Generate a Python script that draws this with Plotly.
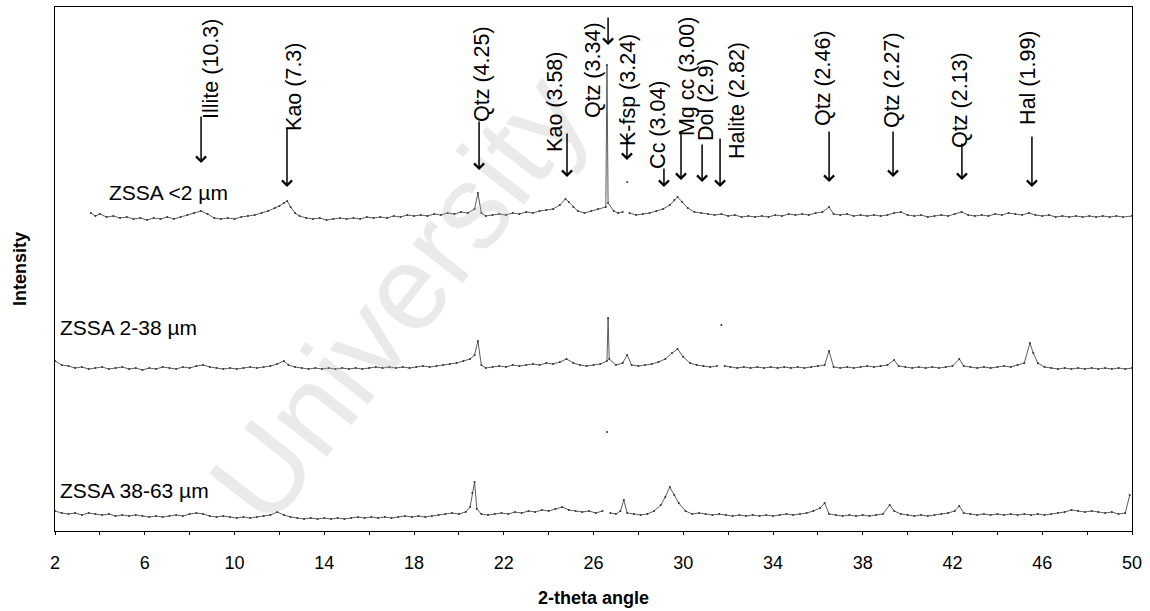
import plotly.graph_objects as go

# ---------------- data ----------------
# Sample 1: ZSSA <2 um (2-theta, offset intensity); None = gap in the dotted record
tt_fine = [3.6,3.8,4.0,4.3,4.6,4.9,5.2,5.5,5.8,6.1,6.4,6.7,7.0,7.3,7.6,7.9,8.2,8.5,8.8,9.1,
           9.4,9.7,10.0,10.3,10.6,10.9,11.2,11.5,11.8,12.0,12.2,12.35,12.5,12.7,12.9,13.2,13.5,13.8,14.1,14.4,
           14.7,15.0,15.3,15.6,15.9,16.2,16.5,16.8,17.1,17.4,17.7,18.0,18.3,18.6,18.9,19.2,19.5,19.8,20.1,20.4,
           20.7,20.85,21.0,21.2,21.5,21.8,22.1,22.4,22.7,23.0,23.3,23.6,23.9,24.2,24.5,24.75,24.9,25.1,25.3,25.6,
           25.9,26.2,26.55,26.6,26.65,26.9,27.1,27.3,27.4,27.5,27.55,27.6,27.9,28.2,28.5,28.8,29.1,29.4,29.6,29.75,29.95,30.2,
           30.5,30.8,31.1,31.4,31.7,32.0,32.3,32.6,32.9,33.2,33.5,33.8,34.1,34.4,34.7,35.0,35.3,35.6,35.9,36.2,
           36.5,36.7,37.0,37.3,37.6,37.9,38.2,38.5,38.8,39.1,39.4,39.7,40.0,40.3,40.6,40.9,41.2,41.5,41.8,42.1,
           42.4,42.7,43.0,43.3,43.6,43.9,44.2,44.5,44.8,45.1,45.4,45.7,46.0,46.3,46.6,46.9,47.2,47.5,47.8,48.1,
           48.4,48.7,49.0,49.3,49.6,50.0]
int_fine = [318,315,317,314,315,313,314,312,313,311,313,312,314,312,314,316,318,320,317,313,
            312,313,312,314,315,316,318,320,323,325,328,330,324,318,315,313,312,313,311,312,
            313,312,313,312,314,313,314,313,315,314,316,315,316,315,317,316,318,317,319,318,
            322,338,318,315,316,317,316,318,317,319,318,320,321,322,326,332,329,324,320,318,
            320,322,324,466,328,320,318,319,None,349,None,318,316,317,318,320,322,326,331,334,329,323,
            319,318,317,316,317,315,316,314,315,314,315,314,316,315,317,316,317,316,318,319,
            324,317,316,317,315,316,315,316,315,316,318,319,316,315,316,314,315,316,315,317,
            319,316,315,316,315,317,316,318,317,316,318,316,315,316,314,315,314,315,314,315,
            314,315,314,315,314,315]

# Sample 2: ZSSA 2-38 um
tt_mid = [2.0,2.3,2.6,2.9,3.2,3.5,3.8,4.1,4.4,4.7,5.0,5.3,5.6,5.9,6.2,6.5,6.8,7.1,7.4,7.7,
          8.0,8.3,8.6,8.9,9.2,9.5,9.8,10.1,10.4,10.7,11.0,11.3,11.6,11.9,12.2,12.4,12.7,13.0,13.3,13.6,
          13.9,14.2,14.5,14.8,15.1,15.4,15.7,16.0,16.3,16.6,16.9,17.2,17.5,17.8,18.1,18.4,18.7,19.0,19.3,19.6,
          19.9,20.2,20.5,20.7,20.85,21.0,21.2,21.5,21.8,22.1,22.4,22.7,23.0,23.3,23.6,23.9,24.2,24.5,24.8,25.1,
          25.4,25.7,26.0,26.3,26.6,26.65,26.7,27.0,27.3,27.5,27.7,28.0,28.3,28.6,28.9,29.2,29.5,29.75,30.0,30.3,
          30.6,30.9,31.2,31.5,31.6,31.7,31.78,31.85,32.1,32.4,32.7,33.0,33.3,33.6,33.9,34.2,34.5,34.8,35.1,35.4,35.7,36.0,
          36.3,36.5,36.7,37.0,37.3,37.6,37.9,38.2,38.5,38.8,39.1,39.4,39.6,39.9,40.2,40.5,40.8,41.1,41.4,41.7,
          42.0,42.3,42.5,42.8,43.1,43.4,43.7,44.0,44.3,44.6,44.9,45.2,45.45,45.6,45.8,46.1,46.4,46.7,47.0,47.3,
          47.6,47.9,48.2,48.5,48.8,49.1,49.4,49.7,50.0]
int_mid = [170,166,165,163,164,162,163,164,162,163,164,162,163,161,163,162,164,163,162,164,
           163,165,166,164,163,162,163,162,163,164,163,164,165,167,170,166,164,163,162,163,
           162,163,162,163,162,163,162,163,164,163,164,163,164,163,164,165,164,165,166,167,
           168,170,172,176,190,166,163,164,165,164,166,165,166,167,166,168,167,169,172,168,
           166,165,166,167,170,213,172,166,168,176,166,165,166,167,169,172,178,182,174,168,
           166,165,164,165,None,206,None,165,164,163,164,163,164,163,164,163,164,163,164,163,164,165,
           166,180,164,163,164,163,164,165,164,165,166,171,165,164,163,164,163,164,163,164,
           165,172,165,164,163,164,163,164,165,164,166,168,188,178,168,164,163,162,163,162,
           163,162,163,162,163,162,163,162,163]

# Sample 3: ZSSA 38-63 um
tt_coarse = [2.0,2.3,2.6,2.9,3.2,3.5,3.8,4.1,4.4,4.7,5.0,5.3,5.6,5.9,6.2,6.5,6.8,7.1,7.4,7.7,
             8.0,8.3,8.6,8.9,9.2,9.5,9.8,10.1,10.4,10.7,11.0,11.3,11.6,11.9,12.2,12.5,12.8,13.1,13.4,13.7,
             14.0,14.3,14.6,14.9,15.2,15.5,15.8,16.1,16.4,16.7,17.0,17.3,17.6,17.9,18.2,18.5,18.8,19.1,19.4,19.7,
             20.0,20.3,20.5,20.6,20.7,20.8,21.0,21.3,21.6,21.9,22.2,22.5,22.8,23.1,23.4,23.7,24.0,24.3,24.6,24.9,
             25.2,25.5,25.8,26.1,26.4,26.5,26.6,26.68,26.75,27.0,27.2,27.35,27.5,27.8,28.1,28.4,28.7,29.0,29.2,29.4,29.6,29.8,
             30.1,30.4,30.7,31.0,31.3,31.6,31.9,32.2,32.5,32.8,33.1,33.4,33.7,34.0,34.3,34.6,34.9,35.2,35.5,35.8,
             36.1,36.3,36.5,36.8,37.1,37.4,37.7,38.0,38.3,38.6,38.9,39.2,39.4,39.7,40.0,40.3,40.6,40.9,41.2,41.5,
             41.8,42.1,42.3,42.5,42.8,43.1,43.4,43.7,44.0,44.3,44.6,44.9,45.2,45.5,45.8,46.1,46.4,46.7,47.0,47.3,
             47.6,47.9,48.2,48.5,48.8,49.1,49.4,49.7,49.9]
int_coarse = [20,18,17,18,16,18,17,16,17,15,16,15,16,15,14,15,14,15,16,15,
              17,18,17,15,14,15,14,13,14,13,14,15,16,19,16,14,13,12,13,12,
              13,12,13,12,13,14,13,14,13,14,13,14,15,14,15,14,15,16,17,18,
              17,19,24,38,49,22,17,16,17,18,17,19,18,20,19,21,20,22,24,21,
              20,19,20,18,20,None,99,None,18,17,20,31,18,17,16,17,20,26,34,44,36,28,
              20,17,18,17,16,17,16,15,16,15,16,15,16,15,16,17,16,17,18,20,
              23,28,17,16,15,16,15,16,15,16,17,26,20,17,16,15,16,15,16,17,
              18,20,25,18,17,16,17,16,17,16,17,16,17,16,17,16,17,18,19,21,
              20,19,20,19,18,19,17,18,36]

sample_names = ["ZSSA <2 µm", "ZSSA 2-38 µm", "ZSSA 38-63 µm"]

# Mineral reflections marked on the top pattern (label, 2-theta of arrow)
peak_labels = ["Illite (10.3)", "Kao (7.3)", "Qtz (4.25)", "Kao (3.58)", "Qtz (3.34)",
               "K-fsp (3.24)", "Cc (3.04)", "Mg cc (3.00)", "Dol (2.9)", "Halite (2.82)",
               "Qtz (2.46)", "Qtz (2.27)", "Qtz (2.13)", "Hal (1.99)"]
peak_2theta = [8.51, 12.34, 20.90, 24.82, 26.65, 27.49, 29.14, 29.90, 30.84, 31.64,
               36.50, 39.35, 42.42, 45.54]

# ---------------- layout / style helpers ----------------
arrow_top = [416, 404, 411, 399, 515, 399, 364, 401, 388, 394, 401, 401, 389, 396]
arrow_tip = [368, 344, 361, 354, 486, 371, 344, 351, 349, 344, 349, 354, 351, 344]
label_dx = [0.44, 0.31, 0.13, -0.54, -0.67, 0.05, -0.27, 0.27, 0.17, 0.76, -0.27, -0.05, -0.09, -0.18]
label_y = [462, 444, 457, 429, 461, 441, 406, 454, 431, 430, 453, 451, 431, 453]

name_pos = [(4.32, 339), (2.13, 204), (2.13, 41)]

FONT = "Liberation Sans, Arial, sans-serif"

fig = go.Figure()
for xs, ys, nm in [(tt_fine, int_fine, sample_names[0]),
                   (tt_mid, int_mid, sample_names[1]),
                   (tt_coarse, int_coarse, sample_names[2])]:
    fig.add_trace(go.Scatter(x=xs, y=ys, mode="lines+markers", name=nm,
                             line=dict(color="#4a4a4a", width=0.9),
                             marker=dict(color="#333333", size=2),
                             showlegend=False, hoverinfo="skip", connectgaps=False))

annotations = []
# faint watermark
annotations.append(dict(text="University", xref="paper", yref="paper",
                        x=0.318, y=0.445, showarrow=False, textangle=-52,
                        font=dict(family=FONT, size=120, color="rgba(180,180,180,0.28)"),
                        xanchor="center", yanchor="middle"))

# y-axis title placed as annotation so it can sit close to the page edge
annotations.append(dict(text="<b>Intensity</b>", xref="paper", yref="paper",
                        x=-0.0325, y=0.5, showarrow=False, textangle=-90,
                        xanchor="center", yanchor="middle",
                        font=dict(family=FONT, size=18, color="black")))

for (xp, yp), nm in zip(name_pos, sample_names):
    annotations.append(dict(text=nm, x=xp, y=yp, xref="x", yref="y", showarrow=False,
                            xanchor="left", yanchor="middle",
                            font=dict(family=FONT, size=21, color="black")))

for lab, tt, top, tip, dx, ly in zip(peak_labels, peak_2theta, arrow_top, arrow_tip, label_dx, label_y):
    annotations.append(dict(x=tt, y=tip, ax=tt, ay=top, xref="x", yref="y",
                            axref="x", ayref="y", text="", showarrow=True,
                            arrowhead=4, arrowsize=1.3, arrowwidth=1.5, arrowcolor="black"))
    annotations.append(dict(text=lab, x=tt + dx, y=ly, xref="x", yref="y", showarrow=False,
                            textangle=-90, xanchor="center", yanchor="middle",
                            font=dict(family=FONT, size=21.5, color="black")))

fig.update_layout(
    width=1150, height=611,
    margin=dict(l=55, r=18, t=7, b=80),
    paper_bgcolor="white", plot_bgcolor="white",
    font=dict(family=FONT, size=18, color="black"),
    annotations=annotations,
    xaxis=dict(range=[2, 50], tickvals=list(range(2, 51, 4)), ticks="outside", ticklen=3,
               tickwidth=1, tickcolor="black", showgrid=False, zeroline=False,
               showline=True, linecolor="black", linewidth=1.3, mirror=True,
               tickfont=dict(family=FONT, size=18), ticklabelstandoff=12,
               minor=dict(tick0=2, dtick=2, ticks="outside", ticklen=3, tickcolor="black"),
               title=dict(text="<b>2-theta angle</b>", font=dict(family=FONT, size=18), standoff=19)),
    yaxis=dict(range=[0, 524], showticklabels=False, ticks="", showgrid=False, zeroline=False,
               showline=True, linecolor="black", linewidth=1.3, mirror=True),
)

fig.write_html("out.html", config={"displayModeBar": False},
               post_script="document.body.style.margin='0px';")
